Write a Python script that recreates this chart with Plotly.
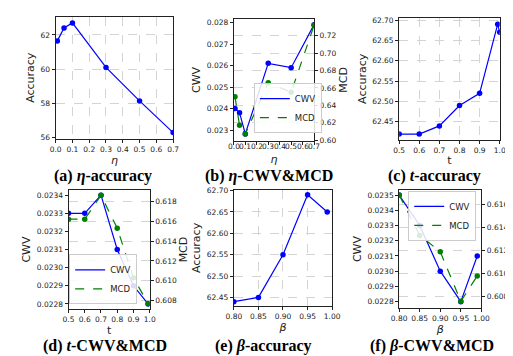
import plotly.graph_objects as go

# ---------------- data ----------------
eta = [0.01, 0.05, 0.1, 0.3, 0.5, 0.7]
acc_eta = [61.65, 62.4, 62.7, 60.1, 58.15, 56.3]
cwv_eta = [0.0240, 0.0238, 0.02282, 0.0261, 0.0259, 0.0279]
mcd_eta = [0.650, 0.617, 0.607, 0.666, 0.655, 0.732]

t_acc = [0.5, 0.6, 0.7, 0.8, 0.9, 0.99, 1.0]
acc_t = [62.42, 62.42, 62.44, 62.49, 62.52, 62.69, 62.67]

t_vals = [0.5, 0.6, 0.7, 0.8, 0.9, 0.99]
cwv_t = [0.0233, 0.0233, 0.0234, 0.0231, 0.0229, 0.0228]
mcd_t = [0.6162, 0.6162, 0.6186, 0.6153, 0.6103, 0.6077]

beta = [0.8, 0.85, 0.9, 0.95, 0.99]
acc_beta = [62.44, 62.45, 62.55, 62.69, 62.65]
cwv_beta = [0.0235, 0.0233, 0.0230, 0.0228, 0.0231]
mcd_beta = [0.6168, 0.6133, 0.6119, 0.6076, 0.6098]

eta_ticks = [0.0, 0.1, 0.2, 0.3, 0.4, 0.5, 0.6, 0.7]
eta_ticklabels = ["0.0", "0.1", "0.2", "0.3", "0.4", "0.5", "0.6", "0.7"]

captions = ["(a) <i>η</i>-accuracy", "(b) <i>η</i>-CWV&amp;MCD", "(c) <i>t</i>-accuracy",
            "(d) <i>t</i>-CWV&amp;MCD", "(e) <i>β</i>-accuracy", "(f) <i>β</i>-CWV&amp;MCD"]

W, H = 513, 356
BLUE = "#0000ff"
GREEN = "#008000"
TICKF = dict(family="DejaVu Sans", size=7.5, color="#222")
TITLEF = dict(family="DejaVu Sans", size=11, color="#222")


def fx(a, b):
    return [a / W, b / W]


def fy(top, bottom):
    return [1 - bottom / H, 1 - top / H]


fig = go.Figure()


def line_trace(x, y, xa, ya, color, dash, name=None, legend=None):
    fig.add_trace(go.Scatter(x=x, y=y, xaxis=xa, yaxis=ya, mode="lines",
                             line=dict(color=color, width=1.2, dash=dash),
                             name=name, showlegend=name is not None,
                             legend=legend if legend else "legend"))
    fig.add_trace(go.Scatter(x=x, y=y, xaxis=xa, yaxis=ya, mode="markers",
                             marker=dict(color=color, size=5.5), showlegend=False,
                             hoverinfo="skip"))


# (a)
line_trace(eta, acc_eta, "x", "y", BLUE, "solid")
# (b)
line_trace(eta, cwv_eta, "x2", "y2", BLUE, "solid", "CWV", "legend")
line_trace(eta, mcd_eta, "x2", "y3", GREEN, "dash", "MCD", "legend")
# (c)
line_trace(t_acc, acc_t, "x3", "y4", BLUE, "solid")
# (d)
line_trace(t_vals, cwv_t, "x4", "y5", BLUE, "solid", "CWV", "legend2")
line_trace(t_vals, mcd_t, "x4", "y6", GREEN, "dash", "MCD", "legend2")
# (e)
line_trace(beta, acc_beta, "x5", "y7", BLUE, "solid")
# (f)
line_trace(beta, cwv_beta, "x6", "y8", BLUE, "solid", "CWV", "legend3")
line_trace(beta, mcd_beta, "x6", "y9", GREEN, "dash", "MCD", "legend3")

GRID = dict(showgrid=True, gridcolor="#d4d4d4", griddash="dash", gridwidth=1)
NOGRID = dict(showgrid=False)
COMMON = dict(showline=True, linecolor="#222", linewidth=1, ticks="outside",
              ticklen=3, tickcolor="#222", tickfont=TICKF, zeroline=False,
              tickangle=0)


def xax(dom, rng, dtick, fmt, title, anchor, grid, standoff=2):
    d = dict(COMMON, domain=dom, range=rng, dtick=dtick, tick0=rng[0],
             tickformat=fmt, anchor=anchor, mirror=True,
             title=dict(text=title, font=TITLEF, standoff=standoff))
    d.update(GRID if grid else NOGRID)
    return d


def yax(dom, rng, dtick, fmt, title, anchor, grid, mirror=True):
    d = dict(COMMON, domain=dom, range=rng, dtick=dtick, tickformat=fmt, anchor=anchor,
             mirror=mirror, title=dict(text=title, font=TITLEF, standoff=3))
    d.update(GRID if grid else NOGRID)
    return d


def yax2(rng, dtick, fmt, title, anchor, overlay):
    d = dict(COMMON, range=rng, dtick=dtick, tickformat=fmt, anchor=anchor,
             overlaying=overlay, side="right", title=dict(text=title, font=TITLEF, standoff=2))
    d.update(GRID)
    return d


lay = {}
# (a)
lay["xaxis"] = xax(fx(41, 162.5), [0, 0.7], 0.1, ".1f", "<i>η</i>", "y", True, standoff=1)
lay["yaxis"] = yax(fy(5, 129.5), [55.95, 63.05], 2, "d", "Accuracy", "x", True)
# (b)
lay["xaxis2"] = xax(fx(225.3, 308.3), [0, 0.7], 0.1, ".1f", "<i>η</i>", "y2", False, standoff=11)
lay["xaxis2"]["showticklabels"] = False
lay["yaxis2"] = yax(fy(7, 132), [0.02249, 0.02817], 0.001, ".3f", "CWV", "x2", False, mirror=False)
lay["yaxis3"] = yax2([0.599, 0.7394], 0.02, ".2f", "MCD", "x2", "y2")
# (c)
lay["xaxis3"] = xax(fx(396.3, 500.3), [0.5, 1.0], 0.1, ".1f", "t", "y4", True)
lay["yaxis4"] = yax(fy(6, 130.7), [62.406, 62.7055], 0.05, ".2f", "Accuracy", "x3", True)
# (d)
lay["xaxis4"] = xax(fx(54.3, 138.3), [0.5, 1.0], 0.1, ".1f", "t", "y5", False, standoff=1)
lay["yaxis5"] = yax(fy(182, 304), [0.022771, 0.023429], 0.0001, ".4f", "CWV", "x4", False, mirror=False)
lay["yaxis6"] = yax2([0.60714, 0.61915], 0.002, ".3f", "MCD", "x4", "y5")
# (e)
lay["xaxis5"] = xax(fx(225.3, 327), [0.8, 1.0], 0.05, ".2f", "<i>β</i>", "y7", True)
lay["yaxis7"] = yax(fy(182, 300.7), [62.43, 62.7016], 0.05, ".2f", "Accuracy", "x5", True)
# (f)
lay["xaxis6"] = xax(fx(396.3, 481.3), [0.8, 1.0], 0.05, ".2f", "<i>β</i>", "y8", False)
lay["yaxis8"] = yax(fy(182, 303), [0.022757, 0.023534], 0.0001, ".4f", "CWV", "x6", False, mirror=False)
lay["yaxis9"] = yax2([0.60701, 0.61724], 0.002, ".3f", "MCD", "x6", "y8")

LEG = dict(bgcolor="rgba(255,255,255,0.85)", bordercolor="#cccccc", borderwidth=1,
           font=dict(family="DejaVu Sans", size=8.5, color="#222"),
           tracegroupgap=0, itemwidth=30)
lay["legend"] = dict(LEG, x=246 / W, y=1 - 124 / H, xanchor="left", yanchor="bottom")
lay["legend2"] = dict(LEG, x=55 / W, y=1 - 299 / H, xanchor="left", yanchor="bottom")
lay["legend3"] = dict(LEG, x=476 / W, y=1 - 183 / H, xanchor="right", yanchor="top")

ann = []
# crowded tick labels of panel (b), placed through the x2 scale
for v, lab in zip(eta_ticks, eta_ticklabels):
    ann.append(dict(text=lab, x=v, xref="x2", y=1 - 137.5 / H, yref="paper",
                    showarrow=False, xanchor="center", yanchor="middle",
                    font=TICKF))

cap_pos = [(90, 168), (262, 168), (433, 168), (92, 342), (256, 342), (430, 342)]
for txt, (cx, cy) in zip(captions, cap_pos):
    ann.append(dict(text="<b>" + txt + "</b>", x=cx / W, y=1 - cy / H, xref="paper", yref="paper",
                    showarrow=False, xanchor="center", yanchor="middle",
                    font=dict(family="Liberation Serif", size=16, color="black")))

fig.update_layout(width=W, height=H, margin=dict(l=0, r=0, t=0, b=0),
                  plot_bgcolor="white", paper_bgcolor="white",
                  annotations=ann, **lay)

fig.write_html("out.html")
